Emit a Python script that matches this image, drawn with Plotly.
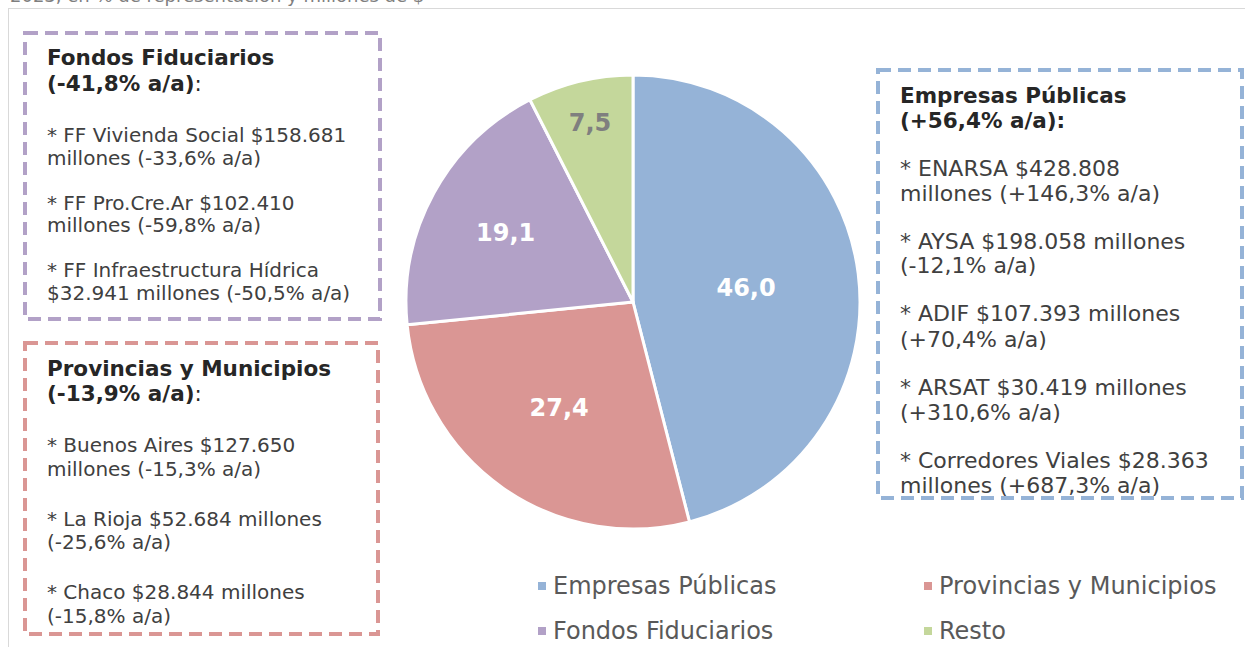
import plotly.graph_objects as go

W, H = 1245, 647

# ---------------- data ----------------
categories = ["Empresas Públicas", "Provincias y Municipios", "Fondos Fiduciarios", "Resto"]
shares = [46.0, 27.4, 19.1, 7.5]
share_labels = ["46,0", "27,4", "19,1", "7,5"]
colors = ["#95B3D7", "#DA9694", "#B2A1C7", "#C4D79B"]
label_colors = ["white", "white", "white", "#7F7F7F"]

subtitle = "2023, en % de representación y millones de $"

fondos_title = ["Fondos Fiduciarios", "(-41,8% a/a)"]
fondos_items = [
    ["* FF Vivienda Social $158.681", "millones (-33,6% a/a)"],
    ["* FF Pro.Cre.Ar $102.410", "millones (-59,8% a/a)"],
    ["* FF Infraestructura Hídrica", "$32.941 millones (-50,5% a/a)"],
]

provincias_title = ["Provincias y Municipios", "(-13,9% a/a)"]
provincias_items = [
    ["* Buenos Aires $127.650", "millones (-15,3% a/a)"],
    ["* La Rioja $52.684 millones", "(-25,6% a/a)"],
    ["* Chaco $28.844 millones", "(-15,8% a/a)"],
]

empresas_title = ["Empresas Públicas", "(+56,4% a/a):"]
empresas_items = [
    ["* ENARSA $428.808", "millones (+146,3% a/a)"],
    ["* AYSA $198.058 millones", "(-12,1% a/a)"],
    ["* ADIF $107.393 millones", "(+70,4% a/a)"],
    ["* ARSAT $30.419 millones", "(+310,6% a/a)"],
    ["* Corredores Viales $28.363", "millones (+687,3% a/a)"],
]

FONT = "DejaVu Sans"


def px(x):
    return x / W


def py(y):
    return 1 - y / H


fig = go.Figure()
fig.add_trace(go.Pie(
    labels=categories,
    values=shares,
    text=share_labels,
    textinfo="text",
    textposition="inside",
    insidetextorientation="horizontal",
    sort=False,
    direction="clockwise",
    rotation=0,
    marker=dict(colors=colors, line=dict(color="white", width=3)),
    textfont=dict(family=FONT, size=24, color=label_colors, weight="bold"),
    domain=dict(x=[px(406), px(860)], y=[py(529), py(75)]),
    showlegend=False,
    hoverinfo="skip",
))

shapes = []
annotations = []

# outer frame lines
shapes.append(dict(type="line", xref="paper", yref="paper", x0=px(8), x1=1.0,
                   y0=py(8.5), y1=py(8.5), line=dict(color="#D9D9D9", width=1)))
shapes.append(dict(type="line", xref="paper", yref="paper", x0=px(8.5), x1=px(8.5),
                   y0=py(8.5), y1=0, line=dict(color="#D9D9D9", width=1)))

# cut-off subtitle at top
annotations.append(dict(text=subtitle, x=px(8), y=py(-4), xref="paper", yref="paper",
                        xanchor="left", yanchor="middle", showarrow=False,
                        font=dict(family=FONT, size=18, color="#7F7F7F")))


def add_box(title, items, color, box, tx, ty0, tgap, body0, lgap, pgap,
            tsize, bsize, colon_bold):
    x0, y0, x1, y1 = box
    shapes.append(dict(type="rect", xref="paper", yref="paper",
                       x0=px(x0), x1=px(x1), y0=py(y0), y1=py(y1),
                       line=dict(color=color, width=4, dash="13px,7px"),
                       fillcolor="rgba(0,0,0,0)"))
    for i, t in enumerate(title):
        txt = "<b>%s</b>" % t
        if i == len(title) - 1 and not colon_bold:
            txt = "<b>%s</b>:" % t
        annotations.append(dict(text=txt, x=px(tx), y=py(ty0 + i * tgap),
                                xref="paper", yref="paper", xanchor="left",
                                yanchor="middle", showarrow=False,
                                font=dict(family=FONT, size=tsize, color="#262626")))
    for j, para in enumerate(items):
        for k, line in enumerate(para):
            annotations.append(dict(text=line, x=px(tx),
                                    y=py(body0 + j * pgap + k * lgap),
                                    xref="paper", yref="paper", xanchor="left",
                                    yanchor="middle", showarrow=False,
                                    font=dict(family=FONT, size=bsize, color="#404040")))


add_box(fondos_title, fondos_items, colors[2], (25, 33, 380, 319),
        45, 58, 25, 135, 22.5, 67.5, 21.5, 20, False)
add_box(provincias_title, provincias_items, colors[1], (25, 343, 378, 634),
        45, 368, 25, 445, 23.5, 73.5, 21.5, 20, False)
add_box(empresas_title, empresas_items, colors[0], (878, 70, 1242, 498),
        898, 95, 25, 168, 25, 73, 21.5, 22, True)

# manual legend (2 x 2)
leg_pos = [(542, 586), (928, 586), (542, 631), (928, 631)]
for cat, col, (lx, ly) in zip(categories, colors, leg_pos):
    shapes.append(dict(type="rect", xref="paper", yref="paper",
                       x0=px(lx - 4), x1=px(lx + 4), y0=py(ly - 4), y1=py(ly + 4),
                       line=dict(width=0), fillcolor=col))
    annotations.append(dict(text=cat, x=px(lx + 9), y=py(ly), xref="paper", yref="paper",
                            xanchor="left", yanchor="middle", showarrow=False,
                            font=dict(family=FONT, size=24, color="#595959")))

fig.update_layout(
    width=W, height=H,
    margin=dict(l=0, r=0, t=0, b=0),
    paper_bgcolor="white",
    plot_bgcolor="white",
    shapes=shapes,
    annotations=annotations,
    showlegend=False,
)

fig.write_html("out.html",
               config={"displayModeBar": False},
               post_script="document.body.style.margin='0';document.body.style.overflow='hidden';")
